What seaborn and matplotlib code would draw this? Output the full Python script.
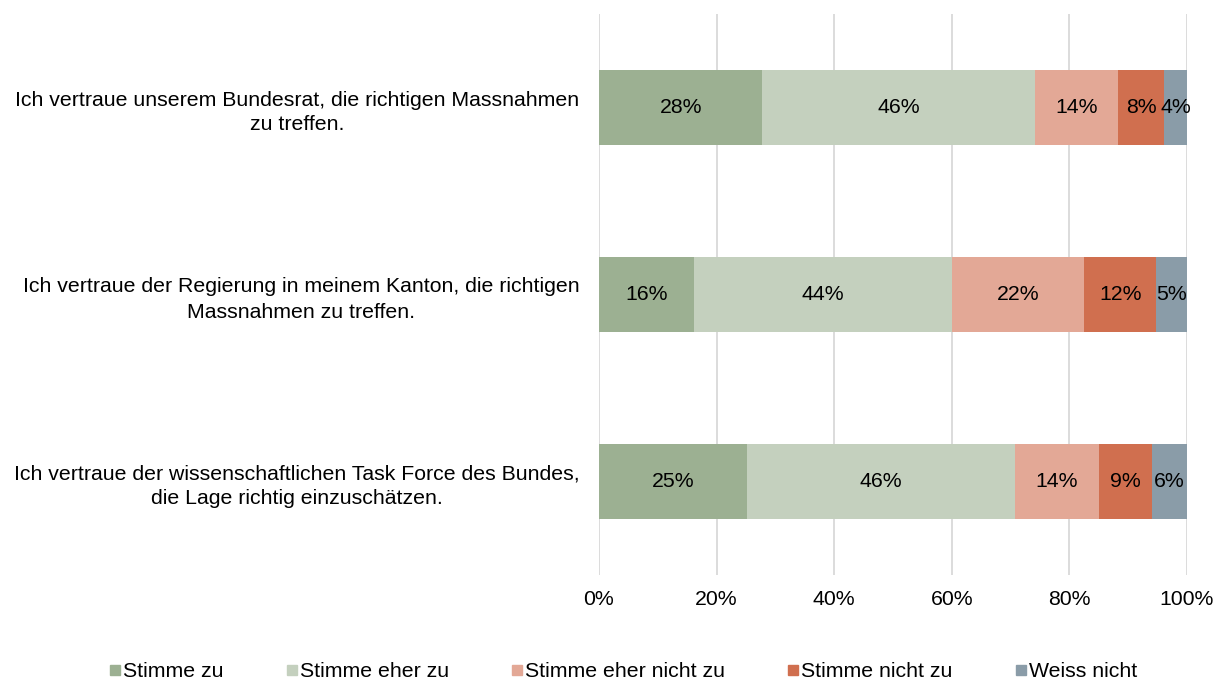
import matplotlib
matplotlib.use("Agg")
import matplotlib.pyplot as plt
import seaborn as sns
import pandas as pd
import numpy as np
from matplotlib.lines import Line2D

statements = [
    "Ich vertraue unserem Bundesrat, die richtigen Massnahmen\nzu treffen.",
    "Ich vertraue der Regierung in meinem Kanton, die richtigen\nMassnahmen zu treffen.",
    "Ich vertraue der wissenschaftlichen Task Force des Bundes,\ndie Lage richtig einzuschätzen.",
]
categories = ["Stimme zu", "Stimme eher zu", "Stimme eher nicht zu", "Stimme nicht zu", "Weiss nicht"]
stimme_zu = [27.8, 16.1, 25.1]
stimme_eher_zu = [46.3, 44.0, 45.7]
stimme_eher_nicht_zu = [14.2, 22.4, 14.2]
stimme_nicht_zu = [7.8, 12.3, 9.1]
weiss_nicht = [3.9, 5.2, 5.9]
colors = ["#9CB092", "#C4D0BE", "#E3A896", "#D06F4F", "#8A9CA8"]
xticks = [0, 20, 40, 60, 80, 100]

series = [stimme_zu, stimme_eher_zu, stimme_eher_nicht_zu, stimme_nicht_zu, weiss_nicht]
vals = np.array(series)
cum = np.cumsum(vals, axis=0)

sns.set_theme(style="white")
plt.rcParams["font.family"] = ["Liberation Sans", "DejaVu Sans"]
plt.rcParams["text.color"] = "black"
plt.rcParams["xtick.color"] = "black"
plt.rcParams["ytick.color"] = "black"

FS = 15.3

fig = plt.figure(figsize=(12.15, 6.8), dpi=100)
ax = fig.add_axes([599 / 1215, 1 - 575 / 680, 588 / 1215, 561 / 680])

for i in reversed(range(len(categories))):
    df = pd.DataFrame({"statement": statements, "value": cum[i]})
    sns.barplot(data=df, y="statement", x="value", orient="y", color=colors[i],
                width=0.4, saturation=1, ax=ax, zorder=2, linewidth=0)

for i in range(len(categories)):
    for j in range(len(statements)):
        v = vals[i, j]
        ax.text(cum[i, j] - v / 2, j, f"{v:.0f}%", ha="center", va="center",
                fontsize=FS, color="black", zorder=3)

ax.set_xlim(0, 100)
ax.set_ylim(2.5, -0.5)
ax.set_xticks(xticks)
ax.set_xticklabels([f"{t}%" for t in xticks])
ax.set_yticks(range(len(statements)))
ax.set_yticklabels(statements, multialignment="center", linespacing=1.4)
ax.xaxis.grid(True, color="#D9D9D9", linewidth=1.3, zorder=0)
ax.set_axisbelow(True)
for s in ax.spines.values():
    s.set_visible(False)
ax.set_xlabel("")
ax.set_ylabel("")
ax.tick_params(axis="x", length=0, pad=11, labelsize=FS, labelcolor="black")
ax.tick_params(axis="y", length=0, pad=14, labelsize=FS, labelcolor="black")

handles = [Line2D([0], [0], marker="s", linestyle="", markersize=7,
                  markerfacecolor=c, markeredgecolor=c) for c in colors]
fig.legend(handles, categories, loc="lower center", bbox_to_anchor=(0.512, -0.03),
           ncol=5, frameon=False, fontsize=FS, handletextpad=0.0,
           columnspacing=2.83, handlelength=0.75)

fig.savefig("out.png", dpi=100)
